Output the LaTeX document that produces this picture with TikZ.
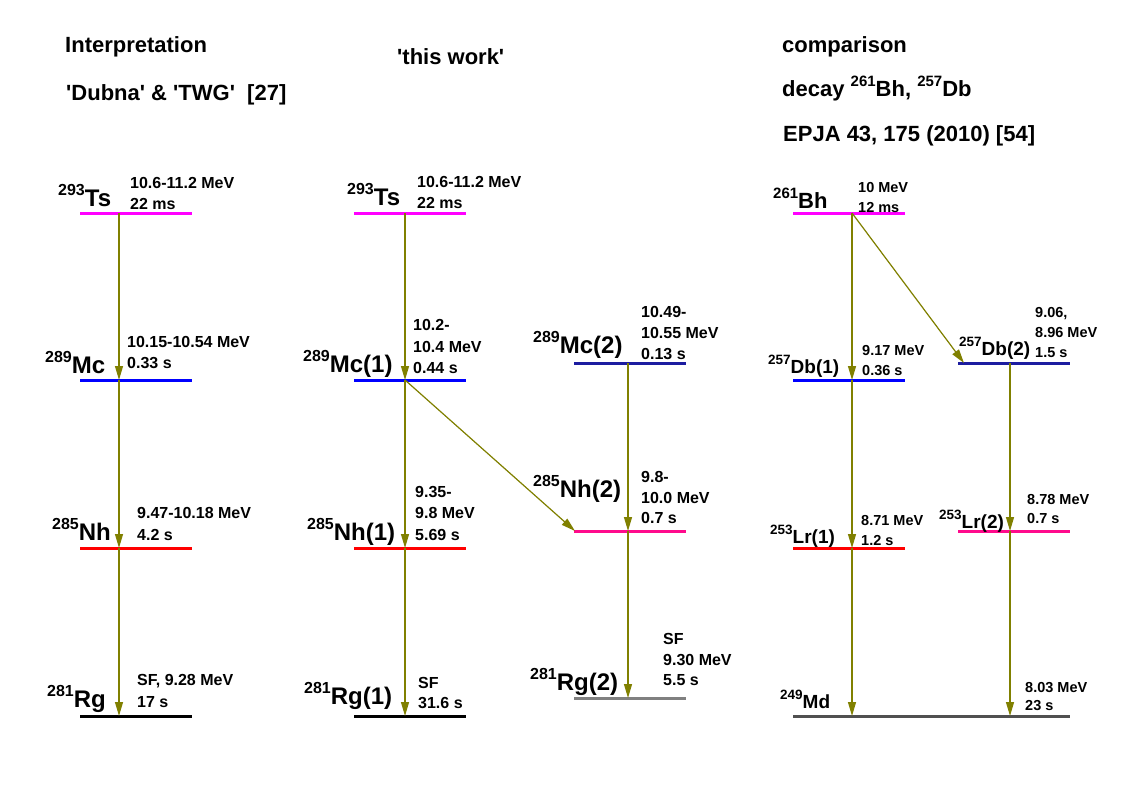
\documentclass[tikz,border=0pt]{standalone}
\usepackage{fontspec}
\setmainfont{Liberation Sans}
\newfontfamily\lsans{Liberation Sans}
\usetikzlibrary{arrows.meta}
\definecolor{olivearrow}{HTML}{808000}
\definecolor{lvmag}{HTML}{FF00FF}
\definecolor{lvblue}{HTML}{0000FF}
\definecolor{lvnavy}{HTML}{1C1CA0}
\definecolor{lvred}{HTML}{FF0000}
\definecolor{lvpink}{HTML}{FF0A8C}
\definecolor{lvgrey}{HTML}{808080}
\definecolor{lvdark}{HTML}{505050}
\newcommand\iso[4]{\fontsize{#1}{#1}\selectfont\raisebox{0.45em}{\fontsize{#2}{#2}\selectfont #3}#4}
\tikzset{
  lvl/.style={rectangle, inner sep=0pt, minimum height=3pt, minimum width=112pt, draw=none},
  decay/.style={draw=olivearrow, fill=olivearrow, line width=1.2pt, -{Triangle[length=14pt,width=8pt]}},
  txt/.style={inner sep=0pt, anchor=base west, font=\lsans\bfseries\fontsize{16}{16}\selectfont},
  txts/.style={txt, font=\lsans\bfseries\fontsize{14.5}{14.5}\selectfont},
  ttl/.style={txt, font=\lsans\bfseries\fontsize{22}{22}\selectfont},
  elem/.style={inner sep=0pt, anchor=base west, font=\lsans\bfseries}
}
\begin{document}
\begin{tikzpicture}[x=1pt,y=-1pt]
\fill[white] (0,0) rectangle (1136,795);
\useasboundingbox (0,0) rectangle (1136,795);

% titles
\node[ttl] (t1) at (65,52) {Interpretation};
\node[ttl] (t2) at (66,100) {'Dubna' \& 'TWG'\ \ [27]};
\node[ttl] (t3) at (397,64) {'this work'};
\node[ttl] (t4) at (782,52) {comparison};
\node[ttl] (t5) at (782,96) {decay \raisebox{0.45em}{\fontsize{15}{15}\selectfont 261}Bh, \raisebox{0.45em}{\fontsize{15}{15}\selectfont 257}Db};
\node[ttl] (t6) at (783,141) {EPJA 43, 175 (2010) [54]};

% level lines
\node[lvl, fill=lvmag]  (L1a) at (136,213) {};
\node[lvl, fill=lvblue] (L1b) at (136,380) {};
\node[lvl, fill=lvred]  (L1c) at (136,548) {};
\node[lvl, fill=black]  (L1d) at (136,716) {};
\node[lvl, fill=lvmag]  (L2a) at (410,213) {};
\node[lvl, fill=lvblue] (L2b) at (410,380) {};
\node[lvl, fill=lvred]  (L2c) at (410,548) {};
\node[lvl, fill=black]  (L2d) at (410,716) {};
\node[lvl, fill=lvnavy] (L3a) at (630,363) {};
\node[lvl, fill=lvpink] (L3b) at (630,531) {};
\node[lvl, fill=lvgrey] (L3c) at (630,698.5) {};
\node[lvl, fill=lvmag]  (L4a) at (849,213) {};
\node[lvl, fill=lvblue] (L4b) at (849,380) {};
\node[lvl, fill=lvred]  (L4c) at (849,548) {};
\node[lvl, fill=lvnavy] (L5a) at (1014,363) {};
\node[lvl, fill=lvpink] (L5b) at (1014,531) {};
\node[lvl, fill=lvdark, minimum width=277pt] (Lmd) at (931.5,716) {};

% arrow anchor points
\coordinate (c1a) at (119,213); \coordinate (c1b) at (119,380);
\coordinate (c1c) at (119,548); \coordinate (c1d) at (119,716);
\coordinate (c2a) at (405,213); \coordinate (c2b) at (405,380);
\coordinate (c2c) at (405,548); \coordinate (c2d) at (405,716);
\coordinate (c3a) at (628,363); \coordinate (c3b) at (628,531);
\coordinate (c3c) at (628,698); \coordinate (c3l) at (575,531);
\coordinate (c4a) at (852,213); \coordinate (c4b) at (852,380);
\coordinate (c4c) at (852,548); \coordinate (c4d) at (852,716);
\coordinate (c5a) at (1010,363); \coordinate (c5b) at (1010,531);
\coordinate (c5c) at (1010,716); \coordinate (c5l) at (964,363);

% decays
\draw[decay] (c1a) -- (c1b);
\draw[decay] (c1b) -- (c1c);
\draw[decay] (c1c) -- (c1d);
\draw[decay] (c2a) -- (c2b);
\draw[decay] (c2b) -- (c2c);
\draw[decay] (c2c) -- (c2d);
\draw[decay] (c2b) -- (c3l);
\draw[decay] (c3a) -- (c3b);
\draw[decay] (c3b) -- (c3c);
\draw[decay] (c4a) -- (c4b);
\draw[decay] (c4b) -- (c4c);
\draw[decay] (c4c) -- (c4d);
\draw[decay] (c4a) -- (c5l);
\draw[decay] (c5a) -- (c5b);
\draw[decay] (c5b) -- (c5c);

% column 1
\node[elem] (e1a) at (58,206) {\iso{24}{16}{293}{Ts}};
\node[txt] (d1a1) at (130,188) {10.6-11.2 MeV};
\node[txt] (d1a2) at (130,209) {22 ms};
\node[elem] (e1b) at (45,373) {\iso{24}{16}{289}{Mc}};
\node[txt] (d1b1) at (127,347) {10.15-10.54 MeV};
\node[txt] (d1b2) at (127,368) {0.33 s};
\node[elem] (e1c) at (52,540) {\iso{24}{16}{285}{Nh}};
\node[txt] (d1c1) at (137,518) {9.47-10.18 MeV};
\node[txt] (d1c2) at (137,540) {4.2 s};
\node[elem] (e1d) at (47,707) {\iso{24}{16}{281}{Rg}};
\node[txt] (d1d1) at (137,685) {SF, 9.28 MeV};
\node[txt] (d1d2) at (137,707) {17 s};

% column 2
\node[elem] (e2a) at (347,205) {\iso{24}{16}{293}{Ts}};
\node[txt] (d2a1) at (417,187) {10.6-11.2 MeV};
\node[txt] (d2a2) at (417,208) {22 ms};
\node[elem] (e2b) at (303,372) {\iso{24}{16}{289}{Mc(1)}};
\node[txt] (d2b1) at (413,330) {10.2-};
\node[txt] (d2b2) at (413,352) {10.4 MeV};
\node[txt] (d2b3) at (413,373) {0.44 s};
\node[elem] (e2c) at (307,540) {\iso{24}{16}{285}{Nh(1)}};
\node[txt] (d2c1) at (415,497) {9.35-};
\node[txt] (d2c2) at (415,518) {9.8 MeV};
\node[txt] (d2c3) at (415,540) {5.69 s};
\node[elem] (e2d) at (304,704) {\iso{24}{16}{281}{Rg(1)}};
\node[txt] (d2d1) at (418,688) {SF};
\node[txt] (d2d2) at (418,708) {31.6 s};

% column 3
\node[elem] (e3a) at (533,353) {\iso{24}{16}{289}{Mc(2)}};
\node[txt] (d3a1) at (641,317) {10.49-};
\node[txt] (d3a2) at (641,338) {10.55 MeV};
\node[txt] (d3a3) at (641,359) {0.13 s};
\node[elem] (e3b) at (533,497) {\iso{24}{16}{285}{Nh(2)}};
\node[txt] (d3b1) at (641,482) {9.8-};
\node[txt] (d3b2) at (641,503) {10.0 MeV};
\node[txt] (d3b3) at (641,523) {0.7 s};
\node[elem] (e3c) at (530,690) {\iso{24}{16}{281}{Rg(2)}};
\node[txt] (d3c1) at (663,644) {SF};
\node[txt] (d3c2) at (663,665) {9.30 MeV};
\node[txt] (d3c3) at (663,685) {5.5 s};

% column 4
\node[elem] (e4a) at (773,208) {\iso{22}{15}{261}{Bh}};
\node[txts] (d4a1) at (858,192) {10 MeV};
\node[txts] (d4a2) at (858,212) {12 ms};
\node[elem] (e4b) at (768,373) {\iso{19}{13.5}{257}{Db(1)}};
\node[txts] (d4b1) at (862,355) {9.17 MeV};
\node[txts] (d4b2) at (862,375) {0.36 s};
\node[elem] (e4c) at (770,543) {\iso{19}{13.5}{253}{Lr(1)}};
\node[txts] (d4c1) at (861,525) {8.71 MeV};
\node[txts] (d4c2) at (861,545) {1.2 s};
\node[elem] (e4d) at (780,708) {\iso{19}{13.5}{249}{Md}};
\node[txts] (d4d1) at (1025,692) {8.03 MeV};
\node[txts] (d4d2) at (1025,710) {23 s};

% column 5
\node[elem] (e5a) at (959,355) {\iso{19}{13.5}{257}{Db(2)}};
\node[txts] (d5a1) at (1035,317) {9.06,};
\node[txts] (d5a2) at (1035,337) {8.96 MeV};
\node[txts] (d5a3) at (1035,357) {1.5 s};
\node[elem] (e5b) at (939,528) {\iso{19}{13.5}{253}{Lr(2)}};
\node[txts] (d5b1) at (1027,504) {8.78 MeV};
\node[txts] (d5b2) at (1027,523) {0.7 s};
\end{tikzpicture}
\end{document}
